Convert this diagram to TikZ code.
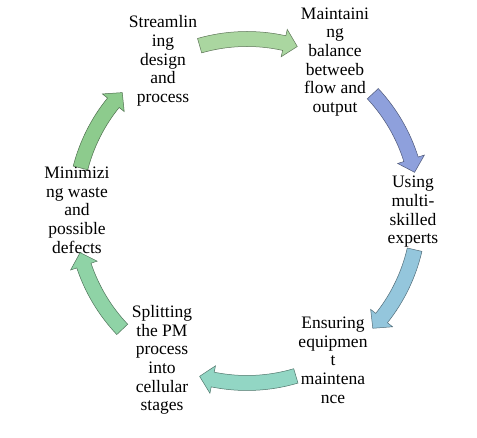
\documentclass[tikz,border=0pt]{standalone}
\usepackage{fontspec}
\setmainfont{Liberation Serif}
\definecolor{cA}{HTML}{AAD6A0}
\definecolor{cB}{HTML}{8EA0DC}
\definecolor{cC}{HTML}{94C6DC}
\definecolor{cD}{HTML}{92D6C4}
\definecolor{cE}{HTML}{8FD3A6}
\definecolor{cF}{HTML}{8DCB8D}
% #1 tail angle, #2 tip angle, #3 colour
\newcommand{\cycarrow}[3]{%
  \pgfmathsetmacro\angTail{#1}%
  \pgfmathsetmacro\angBase{#2+4.5}%
  \pgfmathsetmacro\angTip{#2}%
  \filldraw[blockarrow, fill=#3, draw=#3!55!black]
    ([shift={(\angTail:179.5pt)}]C) arc[start angle=\angTail, end angle=\angBase, radius=179.5pt]
    -- ([shift={(\angBase:186pt)}]C)
    -- ([shift={(\angTip:172pt)}]C)
    -- ([shift={(\angBase:158pt)}]C)
    -- ([shift={(\angBase:164.5pt)}]C)
    arc[start angle=\angBase, end angle=\angTail, radius=164.5pt]
    -- cycle;%
}
\begin{document}
\begin{tikzpicture}[x=1pt,y=1pt,
  lbl/.style={align=center, inner sep=0pt, font=\fontsize{17.5}{18.7}\selectfont, text=black},
  blockarrow/.style={line width=0.5pt, line join=miter}]
\useasboundingbox (0,0) rectangle (477,438);
\fill[white] (0,0) rectangle (477,438);
\coordinate (C) at (247,227);
\node[lbl] (s1) at (163,377) {Streamlin\\ing\\design\\and\\process};
\node[lbl] (s2) at (335,376) {Maintaini\\ng\\balance\\betweeb\\flow and\\output};
\node[lbl] (s3) at (413,226) {Using\\multi-\\skilled\\experts};
\node[lbl] (s4) at (333,78) {Ensuring\\equipmen\\t\\maintena\\nce};
\node[lbl] (s5) at (162,78) {Splitting\\the PM\\process\\into\\cellular\\stages};
\node[lbl] (s6) at (77,228) {Minimizi\\ng waste\\and\\possible\\defects};
\cycarrow{106}{73}{cA}
\cycarrow{43}{13}{cB}
\cycarrow{-13}{-43}{cC}
\cycarrow{-73.5}{-106}{cD}
\cycarrow{223.5}{194}{cE}
\cycarrow{165.5}{136.5}{cF}
\end{tikzpicture}
\end{document}
